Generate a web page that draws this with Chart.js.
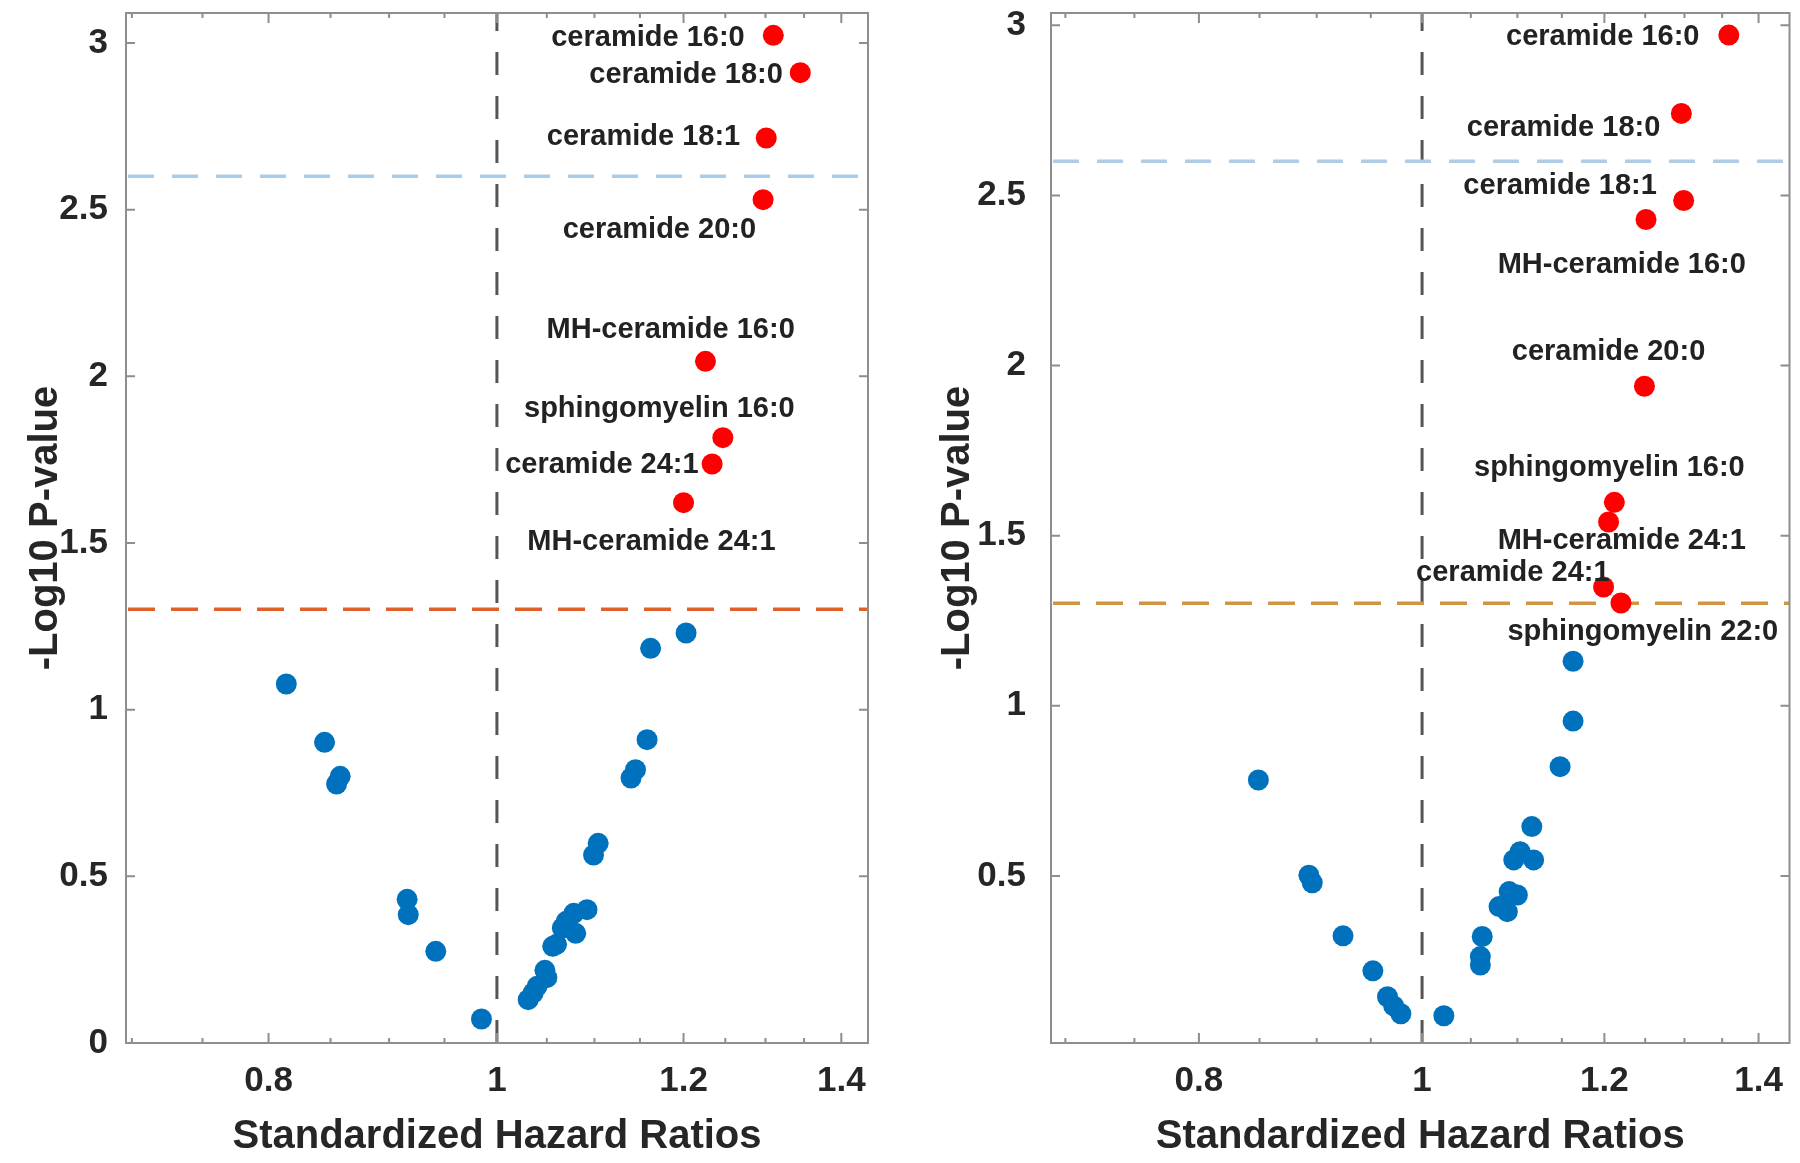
<!DOCTYPE html>
<html>
<head>
<meta charset="utf-8">
<title>Standardized Hazard Ratios</title>
<script src="https://cdn.jsdelivr.net/npm/chart.js@4.4.1/dist/chart.umd.min.js"></script>
<style>
  html, body { margin: 0; padding: 0; background: #fff; }
  #wrap { position: relative; width: 1800px; height: 1163px; }
  canvas { position: absolute; top: 0; }
  #left { left: 0; }
  #right { left: 900px; }
</style>
</head>
<body>
<div id="wrap">
  <canvas id="left" width="900" height="1163"></canvas>
  <canvas id="right" width="900" height="1163"></canvas>
</div>
<script>
// ---- shared axis ticks ----
const xTicks = [0.7, 0.75, 0.8, 0.85, 0.9, 0.95, 1, 1.05, 1.1, 1.15, 1.2, 1.25, 1.3, 1.35, 1.4]
const xMajorTicks = [0.8, 1, 1.2, 1.4]
const yTicksLeft = [0, 0.5, 1, 1.5, 2, 2.5, 3]
const yTicksRight = [0.5, 1, 1.5, 2, 2.5, 3]

// reference lines
const hrLine = 1                // hazard ratio = 1
const pLine = 1.301             // -log10(0.05)
const fdrLine = 2.6             // stricter cut-off

// ---- left panel ----
const leftBlueX = [1.203, 1.162, 0.814, 0.845, 1.158, 1.145, 1.140, 0.858, 0.855, 1.104, 1.099, 0.916, 0.917, 0.942, 0.985,
  1.092, 1.078, 1.070, 1.066, 1.080, 1.060, 1.056, 1.048, 1.050, 1.040, 1.031, 1.036]
const leftBlueY = [1.230, 1.184, 1.077, 0.902, 0.910, 0.820, 0.795, 0.800, 0.777, 0.599, 0.564, 0.431, 0.385, 0.275, 0.072,
  0.400, 0.389, 0.365, 0.345, 0.329, 0.296, 0.290, 0.218, 0.196, 0.170, 0.130, 0.150]
const leftRedX = [1.310, 1.345, 1.301, 1.297, 1.226, 1.247, 1.234, 1.200]
const leftRedY = [3.023, 2.911, 2.715, 2.530, 2.045, 1.816, 1.737, 1.621]
const leftLabels = ['ceramide 16:0', 'ceramide 18:0', 'ceramide 18:1', 'ceramide 20:0',
  'MH-ceramide 16:0', 'sphingomyelin 16:0', 'ceramide 24:1', 'MH-ceramide 24:1']
// label anchors in data units (centre of text)
const leftLabelX = [1.159, 1.203, 1.154, 1.172, 1.185, 1.172, 1.108, 1.163]
const leftLabelY = [3.015, 2.904, 2.718, 2.439, 2.139, 1.902, 1.734, 1.503]

// ---- right panel ----
const rightBlueX = [1.163, 1.163, 1.148, 0.849, 1.116, 1.103, 1.096, 1.118, 0.893, 0.896, 1.091, 1.100, 1.080, 1.089,
  0.924, 1.062, 1.060, 1.060, 0.952, 0.966, 0.972, 0.979, 1.022]
const rightBlueY = [1.131, 0.955, 0.821, 0.782, 0.645, 0.571, 0.547, 0.547, 0.502, 0.480, 0.454, 0.444, 0.410, 0.395,
  0.324, 0.322, 0.263, 0.238, 0.221, 0.145, 0.118, 0.095, 0.089]
const rightRedX = [1.359, 1.296, 1.299, 1.251, 1.249, 1.212, 1.205, 1.199, 1.220]
const rightRedY = [2.971, 2.741, 2.485, 2.429, 1.939, 1.598, 1.540, 1.349, 1.302]
const rightLabels = ['ceramide 16:0', 'ceramide 18:0', 'ceramide 18:1', 'MH-ceramide 16:0', 'ceramide 20:0',
  'sphingomyelin 16:0', 'MH-ceramide 24:1', 'ceramide 24:1', 'sphingomyelin 22:0']
const rightLabelX = [1.198, 1.152, 1.148, 1.221, 1.205, 1.206, 1.221, 1.095, 1.247]
const rightLabelY = [2.966, 2.699, 2.529, 2.295, 2.040, 1.699, 1.484, 1.390, 1.217]

const FONT = 'Arial, "Liberation Sans", Helvetica, sans-serif'
Chart.defaults.font.family = FONT
Chart.defaults.color = '#222'

const toPoints = (xs, ys) => xs.map((x, i) => ({x: x, y: ys[i]}))

// drop the label overhang padding so the plot box sits where we put it
const noPad = s => { s.paddingTop = 0; s.paddingBottom = 0; s.paddingLeft = 0; s.paddingRight = 0 }

function panel(id, p) {
  const decor = {
    id: 'decor',
    beforeDatasetsDraw(chart) {
      const {ctx, chartArea: a, scales: {x, y}} = chart
      ctx.save()
      // vertical HR = 1 line
      const x1 = x.getPixelForValue(hrLine)
      ctx.strokeStyle = '#555'
      ctx.lineWidth = 3
      ctx.setLineDash([23, 21])
      ctx.beginPath(); ctx.moveTo(x1, a.bottom); ctx.lineTo(x1, a.top); ctx.stroke()
      // horizontal thresholds
      const hl = [[fdrLine, p.fdrColor, [26, 18]], [pLine, p.pColor, [27, 16]]]
      hl.forEach(([v, c, d]) => {
        const yy = y.getPixelForValue(v)
        ctx.strokeStyle = c
        ctx.lineWidth = 3.5
        ctx.setLineDash(d)
        ctx.beginPath(); ctx.moveTo(a.left + 2, yy); ctx.lineTo(a.right, yy); ctx.stroke()
      })
      ctx.restore()
    },
    afterDatasetsDraw(chart) {
      const {ctx, chartArea: a, scales: {x, y}} = chart
      ctx.save()
      // frame
      ctx.strokeStyle = '#8e8e8e'
      ctx.lineWidth = 2
      ctx.strokeRect(a.left, a.top, a.right - a.left, a.bottom - a.top)
      // inward tick marks on all four sides
      ctx.beginPath()
      xTicks.forEach(t => {
        const px = x.getPixelForValue(t)
        if (px < a.left || px > a.right) return
        const len = xMajorTicks.includes(t) ? 10 : 5
        ctx.moveTo(px, a.bottom); ctx.lineTo(px, a.bottom - len)
        ctx.moveTo(px, a.top); ctx.lineTo(px, a.top + len)
      })
      p.yTicks.forEach(t => {
        const py = y.getPixelForValue(t)
        ctx.moveTo(a.left, py); ctx.lineTo(a.left + 9, py)
        ctx.moveTo(a.right, py); ctx.lineTo(a.right - 9, py)
      })
      ctx.stroke()
      // point labels
      ctx.fillStyle = '#222'
      ctx.font = 'bold 29px ' + FONT
      ctx.textAlign = 'center'
      ctx.textBaseline = 'middle'
      p.labels.forEach((s, i) => {
        ctx.fillText(s, x.getPixelForValue(p.labelX[i]), y.getPixelForValue(p.labelY[i]))
      })
      ctx.restore()
    }
  }

  return new Chart(document.getElementById(id), {
    type: 'scatter',
    data: {
      datasets: [
        {data: toPoints(p.redX, p.redY), backgroundColor: '#ff0000', pointRadius: 10.5, borderWidth: 0},
        {data: toPoints(p.blueX, p.blueY), backgroundColor: '#0072bd', pointRadius: 10.5, borderWidth: 0}
      ]
    },
    options: {
      responsive: false,
      devicePixelRatio: 1,
      animation: false,
      events: [],
      layout: {padding: {top: 13, right: p.padRight, bottom: 0, left: 0}},
      plugins: {legend: {display: false}, tooltip: {enabled: false}},
      scales: {
        x: {
          type: 'logarithmic',
          min: p.xMin, max: p.xMax,
          grid: {display: false, drawTicks: false},
          border: {display: false},
          afterBuildTicks: s => { s.ticks = xTicks.map(v => ({value: v})) },
          afterFit: s => { s.height = 120; noPad(s) },
          ticks: {
            autoSkip: false, maxRotation: 0, padding: 17,
            font: {size: 35, weight: 'bold'}, color: '#262626',
            callback: v => xMajorTicks.includes(v) ? String(v) : ''
          },
          title: {display: true, text: 'Standardized Hazard Ratios', color: '#262626',
            font: {size: 40, weight: 'bold'}, padding: {top: 0, bottom: 2}}
        },
        y: {
          type: 'linear',
          min: p.yMin, max: p.yMax,
          grid: {display: false, drawTicks: false},
          border: {display: false},
          afterBuildTicks: s => { s.ticks = p.yTicks.map(v => ({value: v})) },
          afterFit: s => { s.width = p.yWidth; noPad(s) },
          ticks: {
            padding: p.yPad,
            font: {size: 35, weight: 'bold'}, color: '#262626',
            callback: v => String(v)
          },
          title: {display: true, text: '-Log10 P-value', color: '#262626',
            font: {size: 40, weight: 'bold'}, padding: {top: p.titlePad, bottom: 0}}
        }
      }
    },
    plugins: [decor]
  })
}

panel('left', {
  blueX: leftBlueX, blueY: leftBlueY, redX: leftRedX, redY: leftRedY,
  labels: leftLabels, labelX: leftLabelX, labelY: leftLabelY,
  xMin: 0.696, xMax: 1.437, yMin: 0, yMax: 3.09, yTicks: yTicksLeft,
  yWidth: 126, padRight: 32, yPad: 18, titlePad: 22,
  fdrColor: '#a9cde9', pColor: '#e0602a'
})

panel('right', {
  blueX: rightBlueX, blueY: rightBlueY, redX: rightRedX, redY: rightRedY,
  labels: rightLabels, labelX: rightLabelX, labelY: rightLabelY,
  xMin: 0.692, xMax: 1.444, yMin: 0.009, yMax: 3.036, yTicks: yTicksRight,
  yWidth: 151, padRight: 9, yPad: 25, titlePad: 34,
  fdrColor: '#b0cce4', pColor: '#d09540'
})
</script>
</body>
</html>
